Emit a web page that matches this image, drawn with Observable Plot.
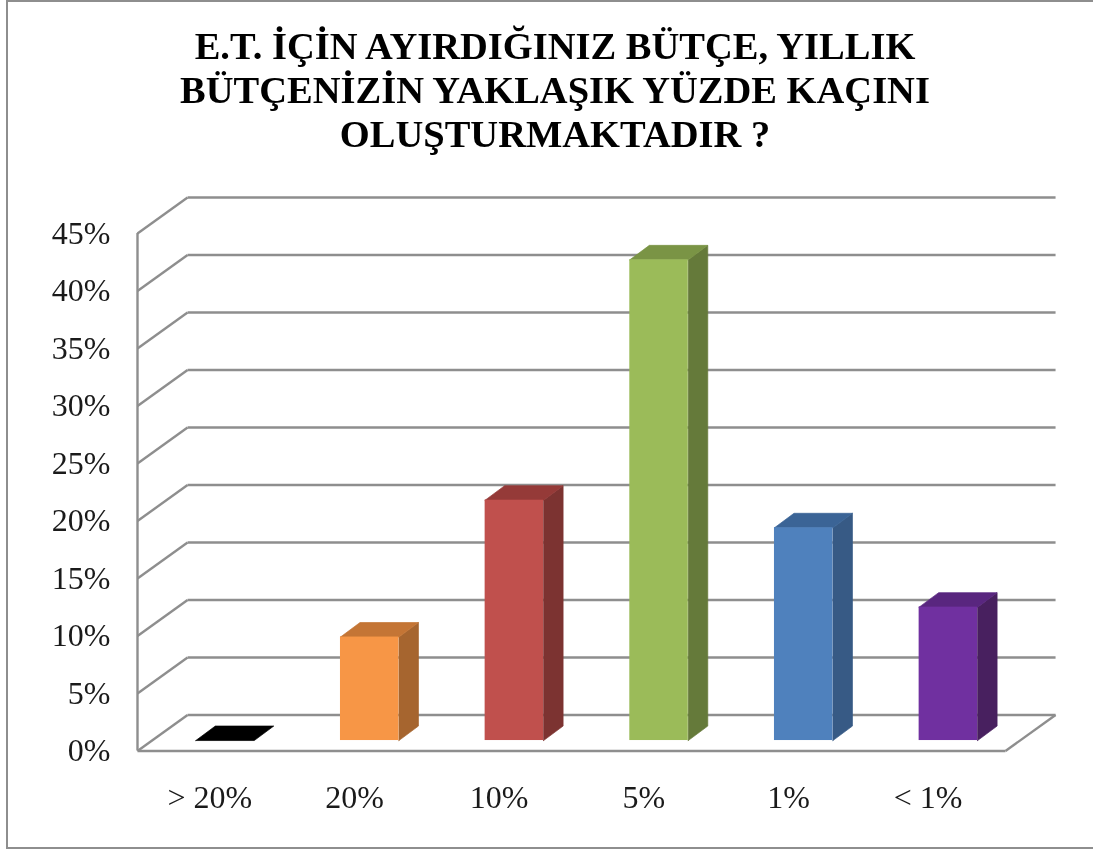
<!DOCTYPE html>
<html lang="tr">
<head>
<meta charset="utf-8">
<script src="https://cdn.jsdelivr.net/npm/d3@7"></script>
<script src="https://cdn.jsdelivr.net/npm/@observablehq/plot@0.6"></script>
<style>
html,body{margin:0;padding:0;background:#fff;overflow:hidden}
#frame{position:relative;width:1093px;height:850px;overflow:hidden;filter:blur(0.4px)}
#border{position:absolute;left:6px;top:0;width:1200px;height:849px;box-sizing:border-box;border:2px solid #8e8e8e}
#title{position:absolute;left:0;top:24px;width:1110px;text-align:center;font:bold 38.5px/44px "Liberation Serif",serif;color:#000;margin:0}
#chart{position:absolute;left:0;top:160px}
#chart svg{display:block;overflow:visible}
</style>
</head>
<body>
<div id="frame">
<div id="border"></div>
<h1 id="title"></h1>
<div id="chart"></div>
</div>
<script>
const titleLines = ["E.T. İÇİN AYIRDIĞINIZ BÜTÇE, YILLIK", "BÜTÇENİZİN YAKLAŞIK YÜZDE KAÇINI", "OLUŞTURMAKTADIR ?"];
const categories = ["> 20%", "20%", "10%", "5%", "1%", "< 1%"];
const categoryTicks = [0.5, 1.5, 2.5, 3.5, 4.5, 5.465];
const values = [0, 9, 20.9, 41.8, 18.5, 11.6];
const yTicks = [0, 5, 10, 15, 20, 25, 30, 35, 40, 45];
const frontColors = ["#000000", "#F79646", "#C0504D", "#9BBB59", "#4F81BD", "#7030A0"];
const topColors = ["#000000", "#C47535", "#953A38", "#7A9445", "#3B6496", "#59267F"];
const sideColors = ["#000000", "#A6652F", "#7C3331", "#657A3A", "#375A85", "#48205F"];

// Oblique projection, in data units of the two scales
const wallDX = 0.346, wallDY = 3.13;   // depth of the floor
const barDX = 0.135, barDY = 1.26;     // depth of a bar
const barLeft = 0.403, barWidth = 0.404, barBase = 0.91;

const n = categories.length;
const walls = yTicks.flatMap(t => [
  {x1: 0, y1: t, x2: wallDX, y2: t + wallDY},
  {x1: wallDX, y1: t + wallDY, x2: n + wallDX, y2: t + wallDY}
]);
const floorEdges = [
  {x1: 0, y1: 0, x2: n, y2: 0},
  {x1: n, y1: 0, x2: n + wallDX, y2: wallDY}
];

const faces = [];
const fronts = [];
values.forEach((v, i) => {
  const a = i + barLeft, b = a + barWidth, lo = barBase, hi = barBase + v;
  if (v > 0) {
    fronts.push({x1: a, x2: b, y1: lo, y2: hi, fill: frontColors[i]});
    [[b, lo], [b + barDX, lo + barDY], [b + barDX, hi + barDY], [b, hi], [b, lo]]
      .forEach(([x, y]) => faces.push({id: "side" + i, x, y, fill: sideColors[i]}));
  }
  [[a, hi], [a + barDX, hi + barDY], [b + barDX, hi + barDY], [b, hi], [a, hi]]
    .forEach(([x, y]) => faces.push({id: "top" + i, x, y, fill: topColors[i]}));
});

document.getElementById("title").innerHTML = titleLines.join("<br>");

const chart = Plot.plot({
  width: 1093,
  height: 690,
  marginLeft: 137,
  marginRight: 88,
  marginTop: 73,
  marginBottom: 99.5,
  style: {background: "transparent", fontFamily: "'Liberation Serif', serif"},
  x: {domain: [0, n], axis: null},
  y: {domain: [0, 45], axis: null},
  color: {type: "identity"},
  marks: [
    Plot.link(walls, {x1: "x1", y1: "y1", x2: "x2", y2: "y2", stroke: "#8e8e8e", strokeWidth: 2.4}),
    Plot.link(floorEdges, {x1: "x1", y1: "y1", x2: "x2", y2: "y2", stroke: "#8e8e8e", strokeWidth: 2.4}),
    Plot.ruleX([0], {y1: 0, y2: 45, stroke: "#8e8e8e", strokeWidth: 2.4}),
    Plot.line(faces, {x: "x", y: "y", z: "id", fill: "fill", stroke: "fill", strokeWidth: 0.7, curve: "linear"}),
    Plot.rect(fronts, {x1: "x1", x2: "x2", y1: "y1", y2: "y2", fill: "fill"}),
    Plot.axisY({ticks: yTicks, tickFormat: d => d + "%", tickSize: 0, tickPadding: 27, fontSize: 32, fill: "#1a1a1a", label: null}),
    Plot.axisX({ticks: categoryTicks, tickFormat: d => categories[categoryTicks.indexOf(d)], tickSize: 0, tickPadding: 34, fontSize: 32, fill: "#1a1a1a", label: null})
  ]
});
document.getElementById("chart").appendChild(chart);
</script>
</body>
</html>
